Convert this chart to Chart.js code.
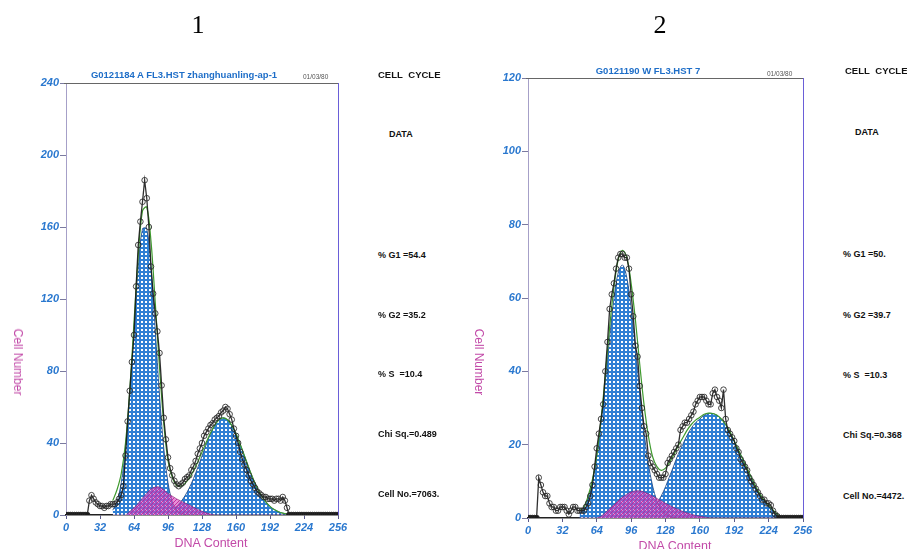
<!DOCTYPE html>
<html>
<head>
<meta charset="utf-8">
<script src="https://cdn.jsdelivr.net/npm/chart.js@4"></script>
<style>
  body { margin: 0; background: #fff; width: 907px; height: 549px; overflow: hidden; position: relative; font-family: 'Liberation Sans', Arial, sans-serif; }
  canvas { position: absolute; top: 0; }
  .t { position: absolute; white-space: nowrap; line-height: 1; }
  .num { font-family: 'Liberation Serif', 'Times New Roman', serif; font-size: 26px; transform: translate(-50%, -50%); }
  .head { color: #1e6ec8; font-weight: bold; font-size: 9.5px; transform: translate(-50%, -50%); }
  .date { color: #555; font-size: 6.5px; transform: translateY(-50%); }
  .side { color: #111; font-size: 9px; font-weight: bold; transform: translateY(-50%); }
  .cc { font-size: 9.5px; word-spacing: 3px; }
  .ytitle { color: #c24aa8; font-size: 12px; transform: translate(-50%, -50%) rotate(90deg); }
  .xtitle { color: #c24aa8; font-size: 12.5px; transform: translate(-50%, -50%); }
</style>
</head>
<body>
<canvas id="left" width="350" height="549" style="left:0"></canvas>
<canvas id="right" width="360" height="549" style="left:460px"></canvas>

<div class="t num" style="left:198px;top:25px">1</div>
<div class="t num" style="left:660px;top:25px">2</div>

<div class="t head" style="left:184px;top:75px">G0121184 A FL3.HST zhanghuanling-ap-1</div>
<div class="t date" style="left:303px;top:77px">01/03/80</div>
<div class="t head" style="left:648px;top:71px">G0121190 W FL3.HST 7</div>
<div class="t date" style="left:767px;top:74px">01/03/80</div>

<div class="t ytitle" style="left:18px;top:362px">Cell Number</div>
<div class="t xtitle" style="left:211px;top:543px">DNA Content</div>
<div class="t ytitle" style="left:479px;top:362px">Cell Number</div>
<div class="t xtitle" style="left:675px;top:546px">DNA Content</div>

<div class="t side cc" style="left:378px;top:75px">CELL CYCLE</div>
<div class="t side" style="left:389px;top:134px">DATA</div>
<div class="t side" style="left:378px;top:255px">% G1 =54.4</div>
<div class="t side" style="left:378px;top:315px">% G2 =35.2</div>
<div class="t side" style="left:378px;top:374px">% S &nbsp;=10.4</div>
<div class="t side" style="left:378px;top:434px">Chi Sq.=0.489</div>
<div class="t side" style="left:378px;top:494px">Cell No.=7063.</div>

<div class="t side cc" style="left:845px;top:71px">CELL CYCLE</div>
<div class="t side" style="left:855px;top:132px">DATA</div>
<div class="t side" style="left:843px;top:254px">% G1 =50.</div>
<div class="t side" style="left:843px;top:315px">% G2 =39.7</div>
<div class="t side" style="left:843px;top:375px">% S &nbsp;=10.3</div>
<div class="t side" style="left:843px;top:435px">Chi Sq.=0.368</div>
<div class="t side" style="left:843px;top:496px">Cell No.=4472.</div>

<script>
"use strict";

// histogram counts, one value every 2 channels (0..256)
const LEFT_DATA = [
    0, 0, 0, 0, 0, 0, 0, 0, 0, 0, 0,
    8, 11, 9, 7, 6, 5, 5, 4, 5, 5, 6, 6, 6, 7, 9, 11, 16, 33, 52, 69,
    85, 100, 127, 150, 163, 174, 186, 176, 160, 138, 123, 112, 102, 90, 72, 54, 42, 32, 26, 22,
    19, 17, 16, 17, 18, 20, 21, 22, 25, 27, 30, 34, 37, 40, 44, 46, 48, 50, 51, 53,
    54, 55, 57, 58, 60, 59, 56, 53, 48, 44, 40, 35, 31, 28, 25, 22, 19, 17, 15, 13,
    12, 11, 10, 10, 9, 9, 9, 8, 9, 9, 8, 10, 8, 4,
    0, 0, 0, 0, 0, 0, 0, 0, 0, 0, 0, 0, 0, 0, 0, 0, 0, 0, 0, 0, 0, 0, 0, 0
];
const RIGHT_DATA = [
    0, 0, 0, 0, 0,
    11, 9, 7, 6, 6, 4, 3, 3, 2, 2, 3, 3, 3, 2, 1, 2, 3, 3, 2, 2,
    2, 2, 3, 4, 6, 9, 14, 19, 23, 27, 31, 40, 48, 57, 61, 64, 68, 71, 72, 72,
    71, 71, 68, 61, 55, 47, 44, 36, 30, 25, 23, 17, 15, 14, 13, 12, 11, 11, 11, 12,
    15, 16, 17, 18, 19, 20, 24, 25, 26, 26, 27, 28, 29, 31, 32, 33, 33, 33, 32, 31,
    31, 34, 35, 33, 32, 30, 35, 27, 24, 23, 22, 21, 19, 18, 16, 15, 14, 13, 11, 10,
    9, 8, 7, 6, 5, 5, 4, 4, 3.5, 2, 1, 0.5,
    0, 0, 0, 0, 0, 0, 0, 0, 0, 0, 0, 0
];

// fitted components, one value every 4 channels
const LEFT_FIT_START = 44;
const LEFT_G1 = [2.7, 7.5, 18, 37.3, 66.6, 102.9, 137.6, 159, 159, 137.6, 102.9, 66.6, 37.3, 18, 7.5, 2.7, 0.9, 0.2,
    0, 0, 0, 0, 0, 0, 0, 0, 0, 0, 0, 0, 0, 0, 0, 0, 0, 0, 0, 0, 0, 0, 0, 0, 0];
const LEFT_S = [0, 0, 0, 0, 2, 4, 6.5, 9.5, 12, 14.5, 15.5, 15.5, 14, 12, 10.5, 9, 7.8, 6.7, 5.5, 4.3,
    3.1, 2.1, 1.2, 0.5, 0, 0, 0, 0, 0, 0, 0, 0, 0, 0, 0, 0, 0, 0, 0, 0, 0, 0, 0];
const LEFT_G2 = [0, 0, 0, 0, 0, 0, 0, 0, 0, 0, 0, 0, 0, 0,
    3, 4.8, 7.3, 10.7, 15, 20.3, 26.3, 32.8, 39.2, 45.1, 49.8, 52.9, 54, 52.9, 49.8, 45.1,
    39.2, 32.8, 26.3, 20.3, 15, 10.7, 7.3, 4.8, 3, 1.8, 1, 0.5, 0.2];
const LEFT_FIT = [8, 14, 23, 40, 69, 107, 144, 169, 171, 152, 118, 82, 51, 30, 21, 16.5, 16, 17.6, 20.5, 24.6,
    29.4, 35, 40.4, 45.6, 49.8, 52.9, 54, 52.9, 49.8, 45.1, 39.2, 32.8, 26.3, 20.3, 15, 10.7,
    7.3, 4.8, 3, 1.8, 1, 0.5, 0.2];

const RIGHT_FIT_START = 48;
const RIGHT_G1 = [1.3, 2.8, 5.5, 10, 16.9, 26.2, 37.4, 49.2, 59.8, 66.9, 69, 65.5, 57.4, 46.3, 34.4,
    23.6, 14.9, 8.7, 4.7, 2.3, 1.1, 0.4, 0.1,
    0, 0, 0, 0, 0, 0, 0, 0, 0, 0, 0, 0, 0, 0, 0, 0, 0, 0, 0, 0, 0, 0, 0, 0, 0];
const RIGHT_S = [0, 0, 0, 0, 0, 0.5, 1.5, 2.5, 3.6, 4.7, 5.7, 6.5, 7.1, 7.4, 7.4, 7.1, 6.6, 6.0, 5.3,
    4.7, 4.0, 3.4, 2.8, 2.3, 1.8, 1.4, 1.0, 0.7, 0.5, 0.3, 0.1,
    0, 0, 0, 0, 0, 0, 0, 0, 0, 0, 0, 0, 0, 0, 0, 0, 0];
const RIGHT_G2 = [0, 0, 0, 0, 0, 0, 0, 0, 0, 0, 0, 0, 0, 0, 0, 0,
    1, 2, 4, 6, 8.5, 11.5, 14.5, 17.5, 20, 22.5, 24.5, 26, 27, 28, 28.5, 28.5, 28, 27, 25.5,
    23.5, 21, 18.5, 16, 13.5, 11, 8.5, 6.5, 4.8, 3.5, 2.2, 1, 0.3];
const RIGHT_FIT = [2, 3, 6, 10.5, 17, 27, 39, 52, 63, 70.5, 73, 71, 64, 54, 42, 31, 22.5, 16.7,
    14, 13, 13.6, 15.3, 17.4, 19.8, 21.8, 23.9, 25.5, 26.7, 27.5, 28.3, 28.6, 28.5, 28, 27,
    25.5, 23.5, 21, 18.5, 16, 13.5, 11, 8.5, 6.5, 4.8, 3.5, 2.2, 1, 0.3];

const X_TICKS = [0, 32, 64, 96, 128, 160, 192, 224, 256];

function gridPattern() {
    const c = document.createElement('canvas');
    c.width = 4; c.height = 4;
    const g = c.getContext('2d');
    g.fillStyle = '#2f7fd4';
    g.fillRect(0, 0, 4, 4);
    g.fillStyle = '#ffffff';
    g.fillRect(1, 1, 2, 2);
    return g.createPattern(c, 'repeat');
}

function hatchPattern() {
    const c = document.createElement('canvas');
    c.width = 4; c.height = 4;
    const g = c.getContext('2d');
    g.fillStyle = 'rgba(215,70,190,0.6)';
    g.fillRect(0, 0, 4, 4);
    g.strokeStyle = 'rgba(190,30,150,0.85)';
    g.lineWidth = 1;
    g.beginPath();
    g.moveTo(0, 4); g.lineTo(4, 0);
    g.moveTo(-1, 1); g.lineTo(1, -1);
    g.moveTo(3, 5); g.lineTo(5, 3);
    g.stroke();
    return g.createPattern(c, 'repeat');
}

const points = (vals, start, step) => vals.map((v, i) => ({ x: start + i * step, y: v }));

// top and right edge of the plot box
const framePlugin = {
    id: 'frame',
    afterDraw(chart) {
        const { ctx, chartArea: a } = chart;
        ctx.save();
        ctx.lineWidth = 1;
        ctx.strokeStyle = '#666';
        ctx.beginPath();
        ctx.moveTo(a.left - 2, a.top + 0.5);
        ctx.lineTo(a.right, a.top + 0.5);
        ctx.stroke();
        ctx.strokeStyle = '#6a5ed8';
        ctx.beginPath();
        ctx.moveTo(a.right + 0.5, a.top);
        ctx.lineTo(a.right + 0.5, a.bottom);
        ctx.stroke();
        ctx.restore();
    }
};

function drawHistogram(id, cfg) {
    const tickFont = { family: "'Liberation Sans', Arial", size: 11, style: 'italic', weight: 'bold' };
    new Chart(document.getElementById(id), {
        type: 'line',
        data: {
            datasets: [
                {
                    label: 'Data',
                    data: points(cfg.data, 0, 2),
                    borderColor: 'rgba(25,25,25,0.9)',
                    borderWidth: 1.3,
                    pointRadius: 2.8,
                    pointBorderWidth: 1,
                    pointBorderColor: 'rgba(40,40,40,0.85)',
                    pointBackgroundColor: ctx => (ctx.raw && ctx.raw.y === 0) ? '#1a1a1a' : 'rgba(255,255,255,0)',
                    tension: 0,
                    fill: false,
                    order: 0
                },
                {
                    label: 'Fit',
                    data: points(cfg.fit, cfg.start, 4),
                    borderColor: '#3f9a2e',
                    borderWidth: 1.2,
                    pointRadius: 0,
                    tension: 0.35,
                    fill: false,
                    order: 1
                },
                {
                    label: 'S',
                    data: points(cfg.s, cfg.start, 4),
                    borderColor: 'rgba(120,30,110,0.7)',
                    borderWidth: 0.8,
                    backgroundColor: hatchPattern(),
                    pointRadius: 0,
                    tension: 0.35,
                    fill: 'origin',
                    order: 2
                },
                {
                    label: 'G1',
                    data: points(cfg.g1, cfg.start, 4),
                    borderColor: '#17407e',
                    borderWidth: 0.8,
                    backgroundColor: gridPattern(),
                    pointRadius: 0,
                    tension: 0.35,
                    fill: 'origin',
                    order: 3
                },
                {
                    label: 'G2',
                    data: points(cfg.g2, cfg.start, 4),
                    borderColor: '#17407e',
                    borderWidth: 0.8,
                    backgroundColor: gridPattern(),
                    pointRadius: 0,
                    tension: 0.35,
                    fill: 'origin',
                    order: 3
                }
            ]
        },
        options: {
            responsive: false,
            animation: false,
            layout: { padding: cfg.padding },
            plugins: { legend: { display: false }, tooltip: { enabled: false } },
            scales: {
                x: {
                    type: 'linear',
                    min: 0,
                    max: 256,
                    afterBuildTicks: s => { s.ticks = X_TICKS.map(v => ({ value: v })); },
                    afterFit: s => { s.height = 22; },
                    grid: { drawOnChartArea: false, drawTicks: true, tickLength: 4, color: '#5a5a8a' },
                    border: { color: '#222', width: 1.6 },
                    ticks: { color: '#2a78cf', font: tickFont, padding: 2, maxRotation: 0 }
                },
                y: {
                    min: 0,
                    max: cfg.yMax,
                    afterFit: s => { s.width = 40; },
                    grid: { drawOnChartArea: false, drawTicks: true, tickLength: 6, color: '#7a7aa0' },
                    border: { color: '#a6a0c8', width: 1 },
                    ticks: { stepSize: cfg.yStep, color: '#2a78cf', font: tickFont, padding: 1 }
                }
            }
        },
        plugins: [framePlugin]
    });
}

drawHistogram('left', {
    data: LEFT_DATA, start: LEFT_FIT_START,
    g1: LEFT_G1, s: LEFT_S, g2: LEFT_G2, fit: LEFT_FIT,
    yMax: 240, yStep: 40,
    padding: { left: 26, right: 12, top: 83, bottom: 12 }
});

drawHistogram('right', {
    data: RIGHT_DATA, start: RIGHT_FIT_START,
    g1: RIGHT_G1, s: RIGHT_S, g2: RIGHT_G2, fit: RIGHT_FIT,
    yMax: 120, yStep: 20,
    padding: { left: 28, right: 17, top: 78, bottom: 9 }
});
</script>
</body>
</html>
